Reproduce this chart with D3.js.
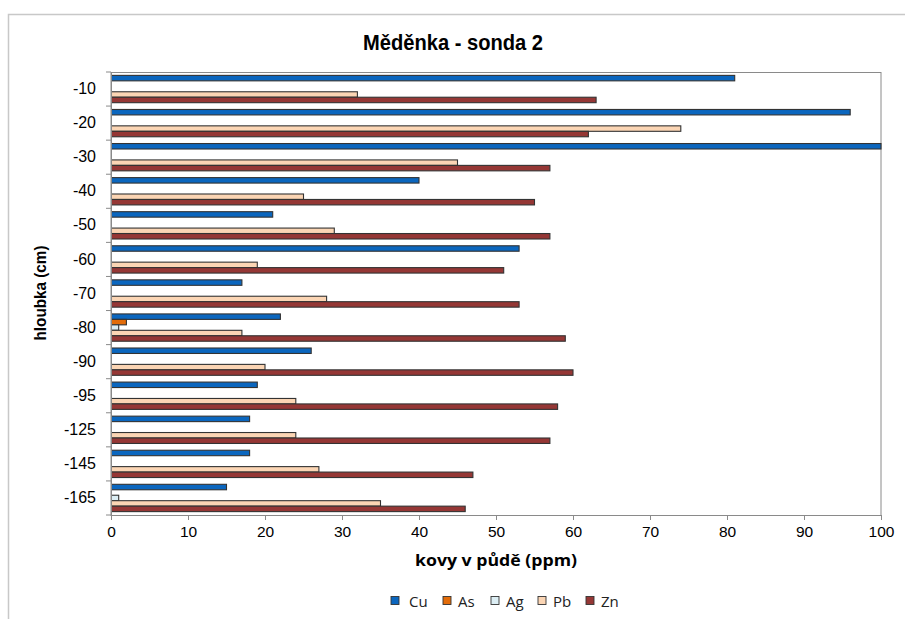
<!DOCTYPE html>
<html><head><meta charset="utf-8">
<script src="https://cdn.jsdelivr.net/npm/d3@7"></script>
<style>html,body{margin:0;padding:0;background:#fff}svg{display:block}</style>
</head><body>
<script>
const categories = ["-10","-20","-30","-40","-50","-60","-70","-80","-90","-95","-125","-145","-165"];
const seriesNames = ["Cu","As","Ag","Pb","Zn"];
const Cu = [81,96,100,40,21,53,17,22,26,19,18,18,15];
const As = [0,0,0,0,0,0,0,2,0,0,0,0,0];
const Ag = [0,0,0,0,0,0,0,1,0,0,0,0,1];
const Pb = [32,74,45,25,29,19,28,17,20,24,24,27,35];
const Zn = [63,62,57,55,57,51,53,59,60,58,57,47,46];
const xTicks = [0,10,20,30,40,50,60,70,80,90,100];
const colors = {Cu:"#0B66BE", As:"#E36C09", Ag:"#DCEEF4", Pb:"#FBD5B4", Zn:"#953735"};
const seriesVals = {Cu, As, Ag, Pb, Zn};

const W = 905, H = 619;
const m = {l:111, r:881, t:72, b:515};
const svg = d3.select("body").append("svg").attr("width",W).attr("height",H);
svg.append("rect").attr("width",W).attr("height",H).attr("fill","#fff");
svg.append("path").attr("d",`M8.5,${H} L8.5,14.5 L${W},14.5`).attr("fill","none").attr("stroke","#c8c8c8").attr("stroke-width",1.5);

const x = d3.scaleLinear().domain([0,100]).range([m.l,m.r]);
const y0 = d3.scaleBand().domain(categories).range([m.t,m.b]).padding(0);
const y1 = d3.scaleBand().domain(seriesNames).range([0,y0.bandwidth()]).paddingInner(0).paddingOuter(0.62);

svg.append("defs").append("clipPath").attr("id","clip").append("rect")
  .attr("x",m.l).attr("y",m.t).attr("width",m.r-m.l+2).attr("height",m.b-m.t);

// plot border
svg.append("rect").attr("x",m.l).attr("y",m.t+0.5).attr("width",m.r-m.l).attr("height",m.b-m.t)
  .attr("fill","none").attr("stroke","#8a8a8a").attr("stroke-width",1);

const g = svg.append("g").attr("clip-path","url(#clip)");
const data = [];
categories.forEach((c,i)=>seriesNames.forEach(s=>data.push({c,s,v:seriesVals[s][i]})));
g.selectAll("rect.bar").data(data.filter(d=>d.v>0)).join("rect")
  .attr("class","bar")
  .attr("x",x(0))
  .attr("y",d=>y0(d.c)+y1(d.s))
  .attr("width",d=>x(d.v)-x(0))
  .attr("height",y1.bandwidth())
  .attr("fill",d=>colors[d.s])
  .attr("stroke","#333").attr("stroke-width",1.1);

// y axis
const yAxis = d3.axisLeft(y0).tickSize(0).tickPadding(15);
const ya = svg.append("g").attr("transform",`translate(${m.l},0)`).call(yAxis);
ya.select(".domain").attr("stroke","#8a8a8a");
ya.selectAll("text").attr("font-family","Liberation Sans, Arial, sans-serif").attr("font-size",16).attr("fill","#000");
svg.append("g").selectAll("line").data(d3.range(categories.length+1)).join("line")
  .attr("x1",m.l-5).attr("x2",m.l)
  .attr("y1",i=>i<categories.length? y0(categories[i]) : m.b)
  .attr("y2",i=>i<categories.length? y0(categories[i]) : m.b)
  .attr("stroke","#8a8a8a");

// x axis
const xAxis = d3.axisBottom(x).tickValues(xTicks).tickSize(5).tickPadding(6).tickFormat(d3.format("d"));
const xa = svg.append("g").attr("transform",`translate(0,${m.b})`).call(xAxis);
xa.select(".domain").attr("stroke","#8a8a8a");
xa.selectAll("line").attr("stroke","#8a8a8a");
xa.selectAll("text").attr("font-family","Liberation Sans, Arial, sans-serif").attr("font-size",15.5).attr("fill","#000");

// titles
svg.append("text").attr("x",453).attr("y",50).attr("text-anchor","middle")
  .attr("font-family","Liberation Sans, Arial, sans-serif").attr("font-weight","bold").attr("font-size",22)
  .attr("textLength",180).attr("lengthAdjust","spacingAndGlyphs").text("Měděnka - sonda 2");
svg.append("text").attr("x",496).attr("y",566).attr("text-anchor","middle")
  .attr("font-family","Open Sans, Lato, sans-serif").attr("font-weight","bold").attr("font-size",16)
  .attr("textLength",162).attr("lengthAdjust","spacingAndGlyphs").text("kovy v půdě (ppm)");
svg.append("text").attr("transform","translate(46,293) rotate(-90)").attr("text-anchor","middle")
  .attr("font-family","Liberation Sans, Arial, sans-serif").attr("font-weight","bold").attr("font-size",17)
  .attr("textLength",95).attr("lengthAdjust","spacingAndGlyphs").text("hloubka (cm)");

// legend
const legX = [391, 443, 491, 538, 586];
const leg = svg.append("g");
seriesNames.forEach((s,i)=>{
  leg.append("rect").attr("x",legX[i]).attr("y",596.5).attr("width",8).attr("height",8)
    .attr("fill",colors[s]).attr("stroke","#333").attr("stroke-width",0.9);
  leg.append("text").attr("x",legX[i]+(i===0?18:15)).attr("y",607)
    .attr("font-family","Open Sans, Lato, sans-serif").attr("font-size",15).attr("fill","#222").text(s);
});
</script>
</body></html>
